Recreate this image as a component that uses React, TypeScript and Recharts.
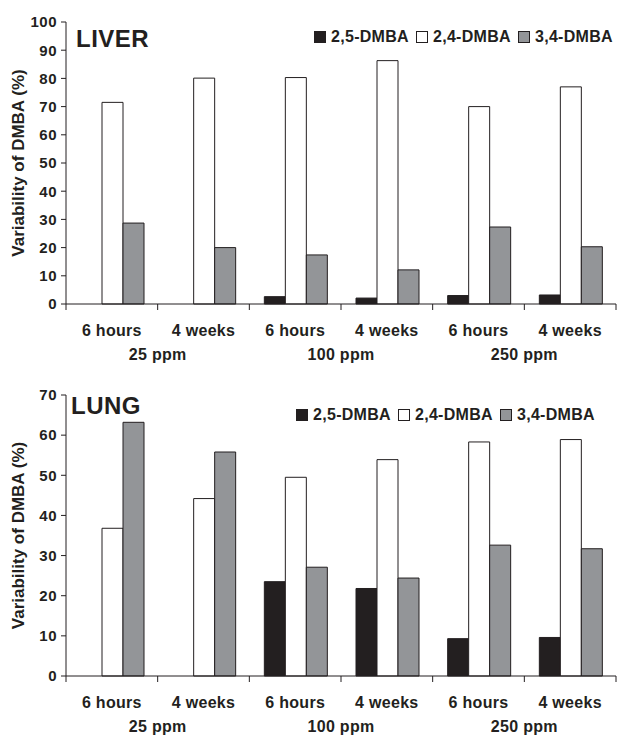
import React from 'react';
import { BarChart, Bar, XAxis, YAxis, Legend, Customized } from 'recharts';

const categories = ['6 hours', '4 weeks', '6 hours', '4 weeks', '6 hours', '4 weeks'];
const doses = ['25 ppm', '100 ppm', '250 ppm'];
const seriesNames = ['2,5-DMBA', '2,4-DMBA', '3,4-DMBA'];

const liver25 = [0, 0, 2.6, 2.1, 3.0, 3.2];
const liver24 = [71.5, 80.1, 80.3, 86.3, 70.0, 77.0];
const liver34 = [28.7, 20.0, 17.4, 12.1, 27.3, 20.3];

const lung25 = [0, 0, 23.5, 21.8, 9.3, 9.6];
const lung24 = [36.8, 44.2, 49.5, 53.9, 58.3, 58.9];
const lung34 = [63.2, 55.8, 27.1, 24.4, 32.6, 31.7];

const liverTicks = [0, 10, 20, 30, 40, 50, 60, 70, 80, 90, 100];
const lungTicks = [0, 10, 20, 30, 40, 50, 60, 70];

const FONT = 'Arial, "Liberation Sans", Helvetica, sans-serif';
const INK = '#231f20';
const colors = [INK, '#ffffff', '#939598'];

const W = 617;
const Y_AXIS_W = 66;
const RIGHT = 1;
const PLOT_W = W - Y_AXIS_W - RIGHT;
const X_AXIS_H = 60;

const buildData = (a: number[], b: number[], c: number[]) =>
  categories.map((cat, i) => ({ cat, b25: a[i], b24: b[i], b34: c[i] }));

const CategoryTick = (props: any) => {
  const { x, y, payload, index } = props;
  const n = categories.length;
  const band = PLOT_W / n;
  return (
    <g>
      <line x1={x - band / 2} x2={x - band / 2} y1={y} y2={y + 6} stroke={INK} />
      {index === n - 1 && <line x1={x + band / 2} x2={x + band / 2} y1={y} y2={y + 6} stroke={INK} />}
      <text x={x} y={y + 32} textAnchor="middle" fontFamily={FONT} fontWeight="bold" fontSize={16} fill={INK} letterSpacing={0.3}>
        {payload.value}
      </text>
      {index % 2 === 0 && (
        <text x={x + band / 2} y={y + 56} textAnchor="middle" fontFamily={FONT} fontWeight="bold" fontSize={16} fill={INK} letterSpacing={0.3}>
          {doses[index / 2]}
        </text>
      )}
    </g>
  );
};

const LegendContent = (props: any) => {
  const items = [...(props.payload || [])].sort(
    (a: any, b: any) => seriesNames.indexOf(a.value) - seriesNames.indexOf(b.value)
  );
  return (
    <div style={{ display: 'flex', alignItems: 'center', fontFamily: FONT, fontWeight: 'bold', fontSize: 16, color: INK, lineHeight: '18px', whiteSpace: 'nowrap' }}>
      {items.map((p: any) => {
        const k = seriesNames.indexOf(p.value);
        return (
          <div key={p.value} style={{ display: 'flex', alignItems: 'center', marginRight: 7 }}>
            <span style={{ display: 'inline-block', width: 10, height: 10, background: colors[k], border: `1px solid ${INK}`, marginRight: 5 }} />
            <span style={{ letterSpacing: 0.3 }}>{p.value}</span>
          </div>
        );
      })}
    </div>
  );
};

interface PanelProps {
  title: string;
  data: { cat: string; b25: number; b24: number; b34: number }[];
  ticks: number[];
  height: number;
  top: number;
  titleX: number;
  titleY: number;
  legendLeft: number;
  legendTop: number;
}

const Panel: React.FC<PanelProps> = ({ title, data, ticks, height, top, titleX, titleY, legendLeft, legendTop }) => {
  const plotH = height - top - X_AXIS_H;
  const midY = top + plotH / 2;
  return (
    <BarChart
      width={W}
      height={height}
      data={data}
      margin={{ top, right: RIGHT, bottom: 0, left: 0 }}
      barCategoryGap={15}
      barGap={0}
    >
      <XAxis
        dataKey="cat"
        interval={0}
        height={X_AXIS_H}
        tickSize={0}
        tickMargin={0}
        tickLine={false}
        axisLine={{ stroke: INK }}
        tick={<CategoryTick />}
      />
      <YAxis
        width={Y_AXIS_W}
        domain={[0, ticks[ticks.length - 1]]}
        ticks={ticks}
        interval={0}
        tickSize={5}
        tickMargin={4}
        axisLine={{ stroke: INK }}
        tickLine={{ stroke: INK }}
        tick={{ fontFamily: FONT, fontWeight: 'bold', fontSize: 15, fill: INK, letterSpacing: 0.5 }}
      />
      <Legend
        layout="horizontal"
        verticalAlign="middle"
        content={<LegendContent />}
        wrapperStyle={{ top: legendTop, left: legendLeft, width: 'auto' }}
      />
      <Bar dataKey="b25" name={seriesNames[0]} fill={colors[0]} stroke={INK} strokeWidth={1} isAnimationActive={false} />
      <Bar dataKey="b24" name={seriesNames[1]} fill={colors[1]} stroke={INK} strokeWidth={1} isAnimationActive={false} />
      <Bar dataKey="b34" name={seriesNames[2]} fill={colors[2]} stroke={INK} strokeWidth={1} isAnimationActive={false} />
      <Customized
        component={() => (
          <g>
            <text x={titleX} y={titleY} fontFamily={FONT} fontWeight="bold" fontSize={24} fill={INK} letterSpacing={0.5}>
              {title}
            </text>
            <text
              x={24}
              y={midY}
              transform={`rotate(-90, 24, ${midY})`}
              textAnchor="middle"
              fontFamily={FONT}
              fontWeight="bold"
              fontSize={17}
              fill={INK}
            >
              Variability of DMBA (%)
            </text>
          </g>
        )}
      />
    </BarChart>
  );
};

export default function App() {
  return (
    <div style={{ position: 'absolute', left: 0, top: 0, width: W, height: 736, background: '#fff' }}>
      <div style={{ position: 'absolute', left: 0, top: 0 }}>
        <Panel
          title="LIVER"
          data={buildData(liver25, liver24, liver34)}
          ticks={liverTicks}
          height={364}
          top={22}
          titleX={76}
          titleY={47}
          legendLeft={314}
          legendTop={28}
        />
      </div>
      <div style={{ position: 'absolute', left: 0, top: 364 }}>
        <Panel
          title="LUNG"
          data={buildData(lung25, lung24, lung34)}
          ticks={lungTicks}
          height={372}
          top={31}
          titleX={71}
          titleY={50}
          legendLeft={296}
          legendTop={42}
        />
      </div>
    </div>
  );
}
